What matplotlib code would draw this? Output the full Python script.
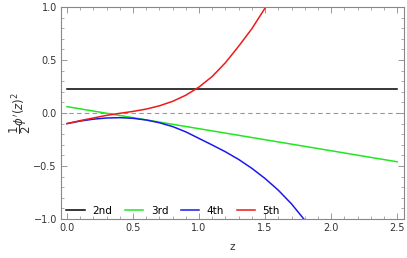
import matplotlib
matplotlib.use("Agg")
import matplotlib.pyplot as plt
from matplotlib.ticker import MultipleLocator

# curves
z_2nd = [0.0, 2.5]
v_2nd = [0.226, 0.226]

z_3rd = [0.0, 0.5, 1.0, 1.5, 2.0, 2.5]
v_3rd = [0.060, -0.044, -0.148, -0.252, -0.356, -0.460]

z_4th = [0.0, 0.1, 0.2, 0.3, 0.4, 0.5, 0.6, 0.7, 0.8, 0.9, 1.0,
         1.1, 1.2, 1.3, 1.4, 1.5, 1.6, 1.7, 1.8]
v_4th = [-0.100, -0.076, -0.058, -0.047, -0.044, -0.050, -0.066, -0.092, -0.128, -0.178, -0.240,
         -0.302, -0.366, -0.438, -0.522, -0.618, -0.728, -0.857, -1.010]

z_5th = [0.0, 0.1, 0.2, 0.3, 0.4, 0.5, 0.6, 0.7, 0.8, 0.9, 1.0,
         1.1, 1.2, 1.3, 1.4, 1.5, 1.52]
v_5th = [-0.100, -0.072, -0.047, -0.022, -0.003, 0.015, 0.037, 0.068, 0.110, 0.168, 0.245,
         0.345, 0.475, 0.630, 0.795, 0.990, 1.030]

labels = ["2nd", "3rd", "4th", "5th"]
colors = ["black", "#22e622", "#1a1aee", "#ee1a1a"]

fig = plt.figure(figsize=(4.07, 2.58), dpi=100)
ax = fig.add_axes([0.150, 0.151, 0.843, 0.822])

ax.axhline(0, color="#999999", lw=0.8, ls=(0, (4, 3)))
for (zz, vv), lab, col in zip([(z_2nd, v_2nd), (z_3rd, v_3rd), (z_4th, v_4th), (z_5th, v_5th)],
                              labels, colors):
    ax.plot(zz, vv, color=col, lw=1.1, label=lab)

ax.set_xlim(-0.045, 2.553)
ax.set_ylim(-1.0, 1.0)
ax.xaxis.set_major_locator(MultipleLocator(0.5))
ax.xaxis.set_minor_locator(MultipleLocator(0.1))
ax.yaxis.set_major_locator(MultipleLocator(0.5))
ax.yaxis.set_minor_locator(MultipleLocator(0.1))
ax.xaxis.set_major_formatter(lambda v, p: f"{v:.1f}")
ax.yaxis.set_major_formatter(lambda v, p: f"{v:.1f}".replace("-", "\u2212"))
ax.tick_params(which="both", direction="in", top=True, right=True,
               color="#888888", labelsize=7, labelcolor="#333333", pad=3)
ax.tick_params(which="major", length=4, width=0.6)
ax.tick_params(which="minor", length=2, width=0.5)
for s in ax.spines.values():
    s.set_color("#888888")
    s.set_linewidth(0.8)

ax.set_xlabel("z", fontsize=7.5, color="#333333", labelpad=6)
ax.set_ylabel(r"$\dfrac{1}{2}\phi'(z)^2$", fontsize=8.5, color="#333333", labelpad=0)

ax.legend(loc="lower left", ncol=4, frameon=False, fontsize=7.5,
          handlelength=1.8, handletextpad=0.7, columnspacing=1.2,
          borderaxespad=0.1, bbox_to_anchor=(0.0, -0.01))

fig.savefig("out.png", dpi=100)
